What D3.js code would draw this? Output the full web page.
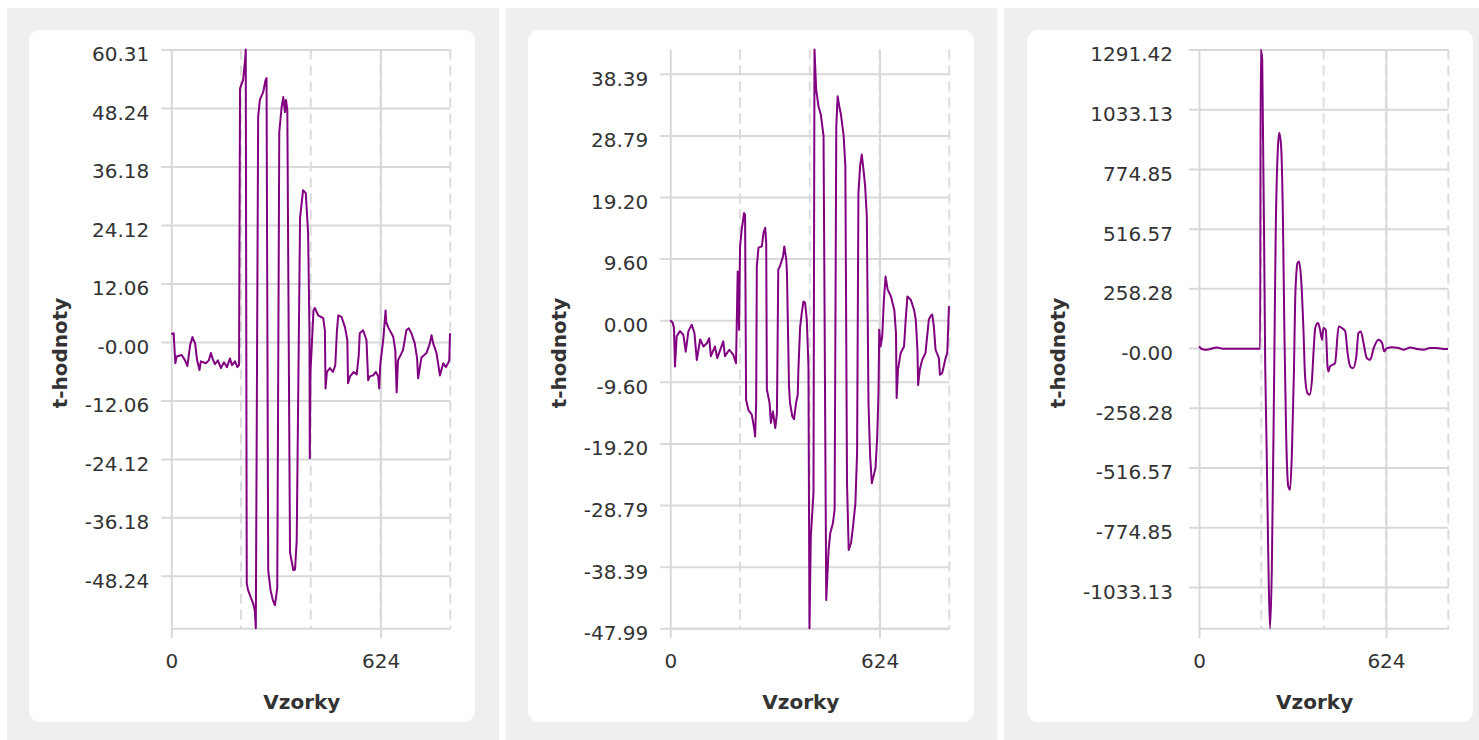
<!DOCTYPE html>
<html><head><meta charset="utf-8">
<script src="https://cdn.jsdelivr.net/npm/d3@7"></script>
<style>
html,body{margin:0;padding:0;background:#fff;}
svg{display:block;}
text{font-family:"DejaVu Sans",Verdana,sans-serif;}
</style></head>
<body>
<svg id="chart" width="1479" height="740"></svg>
<script>
// ---------------- data ----------------
const xLabel = "Vzorky";
const yLabel = "t-hodnoty";
const xDomain = [0, 832];
const xTicks = [0, 624];
const phaseBounds = [208, 416, 624, 832];

// panel 1
const s1 = [0,7,12,16,31,41,48,56,63,71,77,84,88,103,112,118,124,130,139,148,157,166,175,181,190,197,202,205,214,220,222,225,229,237,244,249,252,259,264,274,281,284,289,296,303,309,313,316,322,329,334,339,342,346,354,364,369,374,384,393,401,408,412,413,415,419,424,428,438,453,458,460,464,473,482,489,494,498,508,518,525,527,533,544,553,559,562,572,582,587,592,602,610,617,620,623,632,639,641,647,662,668,672,676,691,701,708,716,726,733,736,746,761,771,776,781,791,801,811,819,825,829,831];
const v1 = [1.6,1.8,-4.4,-3.0,-2.7,-3.8,-5.0,-0.7,1.0,-0.3,-3.8,-5.8,-4.0,-4.4,-3.8,-2.3,-3.6,-4.6,-3.8,-5.4,-4.2,-5.2,-3.4,-4.8,-4.0,-5.2,-4.8,52.3,54.0,58.1,60.31,-49.8,-51.2,-52.7,-53.9,-55.4,-59.06,46.4,49.9,51.5,54.0,54.4,-47.1,-51.2,-53.3,-54.3,-52.3,-50.6,43.3,48.4,50.5,47.4,49.9,47.8,-43.4,-47.1,-46.9,-40.9,25.7,31.3,30.7,22.4,2.4,-24.0,-6.2,-0.7,6.5,7.0,5.5,4.9,2.4,-9.6,-6.2,-5.4,-6.2,-4.8,2.4,5.5,5.1,3.0,0.4,-8.5,-7.1,-6.2,-6.7,-2.7,1.8,2.4,0.4,-7.9,-7.1,-6.9,-6.2,-7.1,-9.6,-4.8,0.4,6.5,4.1,3.0,1.0,-1.7,-10.4,-3.8,-1.7,2.4,2.8,1.8,-0.3,-3.4,-7.5,-3.2,-2.3,-0.3,1.4,-0.3,-2.3,-6.9,-4.4,-5.2,-4.4,-3.8,1.8];
const yTicks1 = [60.31,48.24,36.18,24.12,12.06,0,-12.06,-24.12,-36.18,-48.24];
const yTickLabels1 = ["60.31","48.24","36.18","24.12","12.06","-0.00","-12.06","-24.12","-36.18","-48.24"];

// panel 2
const s2 = [0,7,11,14,19,29,39,46,54,64,72,79,89,99,109,116,121,133,140,151,158,163,176,188,196,201,205,208,213,220,223,226,233,243,250,253,256,258,263,273,278,283,286,288,296,300,306,313,318,322,327,336,340,346,348,354,357,364,369,375,380,382,387,392,397,402,407,412,415,419,427,430,435,442,449,457,465,472,477,485,490,495,499,504,509,517,522,527,532,539,545,552,557,561,566,571,576,581,586,591,596,601,606,612,617,620,621,623,627,632,637,642,648,658,668,673,675,679,687,697,702,707,717,727,732,737,739,744,751,761,771,776,781,786,791,801,804,811,821,826,831];
const v2 = [0.0,-0.4,-1.2,-7.2,-2.5,-1.7,-2.3,-4.9,-1.7,-0.7,-2.0,-6.2,-3.0,-4.1,-3.6,-2.8,-5.6,-4.1,-5.9,-4.3,-3.3,-5.6,-4.6,-5.4,-6.7,7.6,-1.5,11.5,14.1,16.7,16.4,-12.4,-14.0,-14.7,-16.8,-18.1,-12.9,8.4,11.3,11.5,13.6,14.4,12.0,-10.8,-12.9,-16.0,-14.2,-16.8,-14.5,7.9,8.4,9.9,11.5,9.4,7.1,-10.3,-12.9,-15.0,-15.4,-12.9,-11.6,-7.7,-1.2,1.1,2.9,2.7,0.1,-7.2,-47.99,-33.7,-26.9,42.17,35.9,33.3,32.0,28.7,-43.6,-35.8,-33.2,-31.6,-29.5,30.2,34.9,33.3,32.0,28.7,24.0,-25.4,-35.8,-34.7,-32.1,-28.5,-20.7,19.8,24.0,25.8,23.5,20.9,16.2,-12.9,-21.2,-25.4,-24.3,-23.0,-18.1,-12.9,-10.8,-1.5,-4.1,-2.5,3.2,6.8,4.8,3.7,1.6,-2.0,-12.1,-7.7,-5.1,-4.1,0.1,3.7,3.2,1.6,0.1,-4.6,-10.1,-7.7,-6.2,-5.1,0.1,0.6,0.9,-1.0,-4.6,-5.9,-8.5,-8.2,-5.9,-5.1,2.2];
const yTicks2 = [38.39,28.79,19.20,9.60,0,-9.60,-19.20,-28.79,-38.39,-47.99];
const yTickLabels2 = ["38.39","28.79","19.20","9.60","0.00","-9.60","-19.20","-28.79","-38.39","-47.99"];

// panel 3
const s3 = [0,9,20,37,59,81,115,159,201,204,206,211,221,226,232,237,243,251,256,263,268,274,280,285,291,298,304,310,317,321,329,334,341,349,354,362,369,377,382,388,397,404,411,415,423,429,432,437,454,466,477,488,496,505,514,525,532,540,549,560,571,583,599,611,618,627,644,666,683,705,728,750,771,794,816,831];
const v3 = [7,-4,-7,-4,3,-3,-3,-3,-3,-3,1291.42,1248,-80,-455,-960,-1212,-960,-94,498,858,931,873,570,65,-383,-599,-613,-455,-94,209,368,375,296,65,-123,-195,-202,-137,-22,87,108,79,36,87,79,-80,-101,-80,-65,93,87,72,-22,-80,-87,-36,65,72,22,-43,-51,0,36,22,-15,0,4,0,-7,3,-4,-7,0,0,-4,-4];
const yTicks3 = [1291.42,1033.13,774.85,516.57,258.28,0,-258.28,-516.57,-774.85,-1033.13];
const yTickLabels3 = ["1291.42","1033.13","774.85","516.57","258.28","-0.00","-258.28","-516.57","-774.85","-1033.13"];

// ---------------- layout / style ----------------
const W = 1479, H = 740;
const plotTop = 49.5, plotBottom = 628.3;
const gridColor = "#d9d9d9";
const textColor = "#333";
const lineColor = "#800080";

const panels = [
  {s: s1, v: v1, ticks: yTicks1, labels: yTickLabels1, bgX: 7, bgW: 492, cardX: 29, left: 171.3, right: 450.3, pad: 22, curve: d3.curveLinear},
  {s: s2, v: v2, ticks: yTicks2, labels: yTickLabels2, bgX: 505.5, bgW: 492, cardX: 528, left: 670.3, right: 949.3, pad: 22, curve: d3.curveLinear},
  {s: s3, v: v3, ticks: yTicks3, labels: yTickLabels3, bgX: 1004, bgW: 480, cardX: 1027, left: 1199, right: 1448.3, pad: 26, curve: d3.curveMonotoneX}
];

const svg = d3.select("#chart");

panels.forEach(p => {
  svg.append("rect").attr("x", p.bgX).attr("y", 8).attr("width", p.bgW).attr("height", H - 8).attr("fill", "#efefef");
  svg.append("rect").attr("x", p.cardX).attr("y", 30).attr("width", 446).attr("height", 692).attr("rx", 11).attr("fill", "#fff");

  const x = d3.scaleLinear().domain(xDomain).range([p.left, p.right]);
  const y = d3.scaleLinear().domain(d3.extent(p.v)).range([plotBottom, plotTop]);
  const w = p.right - p.left, h = plotBottom - plotTop;

  // dashed phase boundaries
  svg.append("g").selectAll("line").data(phaseBounds).join("line")
    .attr("x1", d => x(d)).attr("x2", d => x(d))
    .attr("y1", plotTop).attr("y2", plotBottom)
    .attr("stroke", "#dcdcdc").attr("stroke-width", 2).attr("stroke-dasharray", "10,6");

  // y grid + ticks + labels
  const gy = svg.append("g").attr("transform", `translate(${p.left},0)`)
    .call(d3.axisLeft(y).tickValues(p.ticks).tickFormat((d, i) => p.labels[i])
      .tickSizeInner(-w).tickSizeOuter(0).tickPadding(p.pad));
  gy.select(".domain").remove();
  gy.selectAll(".tick line").attr("x1", -10).attr("stroke", gridColor).attr("stroke-width", 2);
  gy.selectAll(".tick text").attr("dy", "0.57em").attr("fill", textColor)
    .style("font-size", "20px");

  // x grid + ticks + labels
  const gx = svg.append("g").attr("transform", `translate(0,${plotBottom})`)
    .call(d3.axisBottom(x).tickValues(xTicks).tickSizeInner(-h).tickSizeOuter(0).tickPadding(26));
  gx.select(".domain").attr("stroke", gridColor).attr("stroke-width", 2);
  gx.selectAll(".tick line").attr("y1", 10).attr("stroke", gridColor).attr("stroke-width", 2);
  gx.selectAll(".tick text").attr("fill", textColor).style("font-size", "20px");

  // data line
  const pts = p.s.map((d, i) => [d, p.v[i]]);
  svg.append("path").datum(pts)
    .attr("d", d3.line().x(d => x(d[0])).y(d => y(d[1])).curve(p.curve))
    .attr("fill", "none").attr("stroke", lineColor).attr("stroke-width", 2)
    .attr("stroke-linejoin", "round");

  // titles
  svg.append("text").text(xLabel)
    .attr("x", (p.left + p.right) / 2 - 9).attr("y", 708.5)
    .attr("text-anchor", "middle").attr("fill", textColor)
    .style("font-size", "20px").style("font-weight", "bold");
  svg.append("text").text(yLabel)
    .attr("transform", `translate(${p.cardX + 38},353) rotate(-90)`)
    .attr("text-anchor", "middle").attr("fill", textColor)
    .style("font-size", "20px").style("font-weight", "bold");
});
</script>
</body></html>
